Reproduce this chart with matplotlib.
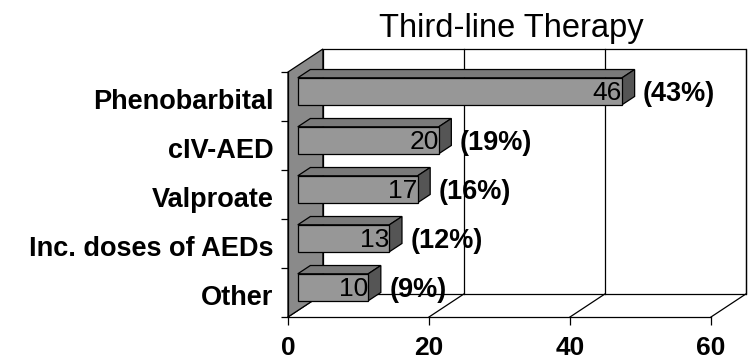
import matplotlib.pyplot as plt
from matplotlib.patches import Polygon

categories = ["Phenobarbital", "cIV-AED", "Valproate", "Inc. doses of AEDs", "Other"]
counts = [46, 20, 17, 13, 10]
percents = [43, 19, 16, 12, 9]
x_ticks = [0, 20, 40, 60]

plt.rcParams['font.family'] = ['Liberation Sans', 'DejaVu Sans']

W, H = 748, 364
fig = plt.figure(figsize=(W / 100, H / 100), dpi=100)
ax = fig.add_axes([288 / W, (H - 317) / H, 423 / W, 245 / H])
ax.set_xlim(0, 60)
ax.set_ylim(0, len(categories))

# fake 3-D: depth offset of the back plane, in data units
DX, DY = 4.95, 0.47
F0, F1 = 0.28, 0.64      # bar depth range (0 = front, 1 = back)
BAR_H, BAR_OFF = 0.55, 0.2
LW = 0.9


def proj(x, y, f):
    return (x + DX * f, y + DY * f)


xmax = x_ticks[-1]
ymax = len(categories)

# back wall + gridlines
back = [proj(0, 0, 1), proj(xmax, 0, 1), proj(xmax, ymax, 1), proj(0, ymax, 1)]
ax.add_patch(Polygon(back, closed=True, fc='white', ec='black', lw=LW,
                     clip_on=False, zorder=1))
for t in x_ticks[1:]:
    p0, p1 = proj(t, 0, 1), proj(t, ymax, 1)
    ax.plot([p0[0], p1[0]], [p0[1], p1[1]], color='black', lw=LW,
            clip_on=False, zorder=1)

# floor diagonals
for t in x_ticks:
    p0, p1 = proj(t, 0, 0), proj(t, 0, 1)
    ax.plot([p0[0], p1[0]], [p0[1], p1[1]], color='black', lw=LW,
            clip_on=False, zorder=1)

# left side wall
wall = [proj(0, 0, 0), proj(0, ymax, 0), proj(0, ymax, 1), proj(0, 0, 1)]
ax.add_patch(Polygon(wall, closed=True, fc='#8a8a8a', ec='black', lw=LW,
                     clip_on=False, zorder=2))

# bars, top category first
for i, (name, v, pct) in enumerate(zip(categories, counts, percents)):
    c = ymax - 1 - i
    y0, y1 = c + BAR_OFF, c + BAR_OFF + BAR_H
    front = [proj(0, y0, F0), proj(v, y0, F0), proj(v, y1, F0), proj(0, y1, F0)]
    top = [proj(0, y1, F0), proj(v, y1, F0), proj(v, y1, F1), proj(0, y1, F1)]
    side = [proj(v, y0, F0), proj(v, y0, F1), proj(v, y1, F1), proj(v, y1, F0)]
    for pts, col in [(top, '#7a7a7a'), (side, '#555555'), (front, '#979797')]:
        ax.add_patch(Polygon(pts, closed=True, fc=col, ec='black', lw=LW,
                             clip_on=False, zorder=3))
    fx, fy = proj(v, (y0 + y1) / 2, F0)
    ax.text(fx, fy - 0.03, str(v), ha='right', va='center', fontsize=19,
            zorder=4, clip_on=False)
    bx, _ = proj(v, 0, F1)
    ax.text(bx + 1.2, fy - 0.05, f"({pct}%)", ha='left', va='center',
            fontsize=19.5, fontweight='bold', zorder=4, clip_on=False)

# axes styling
for s in ['top', 'right']:
    ax.spines[s].set_visible(False)
for s in ['left', 'bottom']:
    ax.spines[s].set_linewidth(LW)
    ax.spines[s].set_zorder(5)
ax.set_facecolor('none')

ax.set_xticks(x_ticks)
ax.set_xticklabels([str(t) for t in x_ticks], fontsize=19, fontweight='bold')
ax.tick_params(axis='x', length=6, width=LW, pad=8)

ax.set_yticks(range(ymax + 1))
ax.set_yticklabels([])
ax.set_yticks([ymax - 1 - i + 0.45 for i in range(ymax)], minor=True)
ax.set_yticklabels(categories, minor=True, fontsize=19.5, fontweight='bold')
ax.tick_params(axis='y', which='major', length=5, width=LW)
ax.tick_params(axis='y', which='minor', length=0, pad=10.5)

fig.text(511.5 / W, 1 - 37 / H, "Third-line Therapy", ha='center',
         va='baseline', fontsize=23.5)

fig.savefig("out.png", dpi=100)
